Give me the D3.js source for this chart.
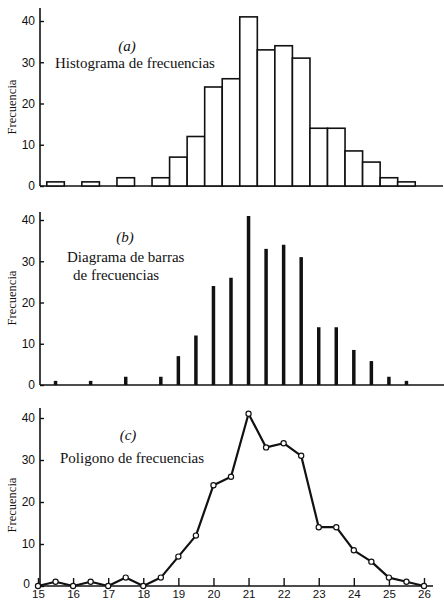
<!DOCTYPE html>
<html>
<head>
<meta charset="utf-8">
<script src="https://cdn.jsdelivr.net/npm/d3@7"></script>
<style>
  body { margin: 0; background: #fff; }
  svg { display: block; }
  .tick text { font-family: "Liberation Sans", Arial, sans-serif; font-size: 12px; fill: #111; }
  .xaxis .tick text { font-size: 11.5px; }
  .title { font-family: "Liberation Serif", "Times New Roman", serif; font-size: 15px; fill: #111; }
  .ylab { font-family: "Liberation Serif", "Times New Roman", serif; font-size: 12.5px; fill: #111; }
</style>
</head>
<body>
<div id="chart"></div>
<script>
// class marks (half-unit classes) and their frequencies
const marks = [15, 15.5, 16, 16.5, 17, 17.5, 18, 18.5, 19, 19.5, 20, 20.5,
               21, 21.5, 22, 22.5, 23, 23.5, 24, 24.5, 25, 25.5, 26];
const freqs = [0, 1, 0, 1, 0, 2, 0, 2, 7, 12, 24, 26,
               41, 33, 34, 31, 14, 14, 8.5, 5.8, 2, 1, 0];
const yTicks = [0, 10, 20, 30, 40];
const xTicks = [15, 16, 17, 18, 19, 20, 21, 22, 23, 24, 25, 26];
const titlesA = ["(a)", "Histograma de frecuencias"];
const titlesB = ["(b)", "Diagrama de barras", "de frecuencias"];
const titlesC = ["(c)", "Poligono de frecuencias"];

const width = 444, height = 603;
const svg = d3.select("#chart").append("svg")
  .attr("width", width)
  .attr("height", height);

const axisX = 40;
const x = d3.scaleLinear().domain([15, 26]).range([38, 424]);
const data = marks.map((m, i) => ({ m, f: freqs[i] }));

// layout of the three stacked panels
const panels = [
  { key: "a", y0: 186, y40: 21, top: 8, right: 443, ylabY: 107 },
  { key: "b", y0: 385, y40: 220, top: 212, right: 444, ylabY: 298 },
  { key: "c", y0: 586, y40: 418, top: 408, right: 433, ylabY: 505 }
];

panels.forEach(p => {
  p.y = d3.scaleLinear().domain([0, 40]).range([p.y0, p.y40]);
  const g = svg.append("g");
  p.g = g;

  // y axis, ticks pointing inside
  const ya = g.append("g")
    .attr("transform", `translate(${axisX},0)`)
    .call(d3.axisLeft(p.y).tickValues(yTicks).tickSize(-4).tickPadding(5));
  ya.select(".domain").remove();
  ya.selectAll(".tick line").attr("stroke", "#111").attr("stroke-width", 1.4);
  // bottom panel: keep its "0" clear of the "15" below it
  if (p.key === "c") ya.selectAll(".tick text").filter(d => d === 0).attr("x", -10).attr("dy", "0.1em");

  g.append("line")
    .attr("x1", axisX).attr("x2", axisX)
    .attr("y1", p.top).attr("y2", p.y0)
    .attr("stroke", "#111").attr("stroke-width", 1.6);
  g.append("line")
    .attr("x1", axisX).attr("x2", p.right)
    .attr("y1", p.y0).attr("y2", p.y0)
    .attr("stroke", "#111").attr("stroke-width", 1.6);

  g.append("text")
    .attr("class", "ylab")
    .attr("transform", `translate(16,${p.ylabY}) rotate(-90)`)
    .attr("text-anchor", "middle")
    .text("Frecuencia");
});

// (a) histogram
const pa = panels[0];
pa.g.selectAll("rect.bar")
  .data(data.filter(d => d.f > 0))
  .join("rect")
  .attr("class", "bar")
  .attr("x", d => x(d.m - 0.25))
  .attr("width", d => x(d.m + 0.25) - x(d.m - 0.25))
  .attr("y", d => pa.y(d.f))
  .attr("height", d => pa.y(0) - pa.y(d.f))
  .attr("fill", "#fff")
  .attr("stroke", "#111")
  .attr("stroke-width", 1.6);
pa.g.append("text").attr("class", "title")
  .attr("x", 127).attr("y", 51).attr("text-anchor", "middle")
  .style("font-style", "italic").text(titlesA[0]);
pa.g.append("text").attr("class", "title")
  .attr("x", 55).attr("y", 68).text(titlesA[1]);

// (b) bar diagram
const pb = panels[1];
pb.g.selectAll("line.bar")
  .data(data.filter(d => d.f > 0))
  .join("line")
  .attr("class", "bar")
  .attr("x1", d => x(d.m)).attr("x2", d => x(d.m))
  .attr("y1", pb.y(0)).attr("y2", d => pb.y(d.f))
  .attr("stroke", "#111")
  .attr("stroke-width", 3.5);
pb.g.append("text").attr("class", "title")
  .attr("x", 125).attr("y", 242).attr("text-anchor", "middle")
  .style("font-style", "italic").text(titlesB[0]);
pb.g.append("text").attr("class", "title")
  .attr("x", 67).attr("y", 262).text(titlesB[1]);
pb.g.append("text").attr("class", "title")
  .attr("x", 73).attr("y", 280).text(titlesB[2]);

// (c) frequency polygon
const pc = panels[2];
const xa = pc.g.append("g")
  .attr("class", "xaxis")
  .attr("transform", `translate(0,${pc.y0})`)
  .call(d3.axisBottom(x).tickValues(xTicks).tickFormat(d3.format("d")).tickSize(-8).tickPadding(4));
xa.select(".domain").remove();
xa.selectAll(".tick line").attr("stroke", "#111").attr("stroke-width", 1.4);

pc.g.append("path")
  .datum(data)
  .attr("fill", "none")
  .attr("stroke", "#111")
  .attr("stroke-width", 2.2)
  .attr("stroke-linejoin", "round")
  .attr("d", d3.line().x(d => x(d.m)).y(d => pc.y(d.f)));
pc.g.selectAll("circle.pt")
  .data(data)
  .join("circle")
  .attr("class", "pt")
  .attr("cx", d => x(d.m))
  .attr("cy", d => pc.y(d.f))
  .attr("r", 2.6)
  .attr("fill", "#fff")
  .attr("stroke", "#111")
  .attr("stroke-width", 1.2);
pc.g.append("text").attr("class", "title")
  .attr("x", 128).attr("y", 440).attr("text-anchor", "middle")
  .style("font-style", "italic").text(titlesC[0]);
pc.g.append("text").attr("class", "title")
  .attr("x", 60).attr("y", 463).text(titlesC[1]);
</script>
</body>
</html>
